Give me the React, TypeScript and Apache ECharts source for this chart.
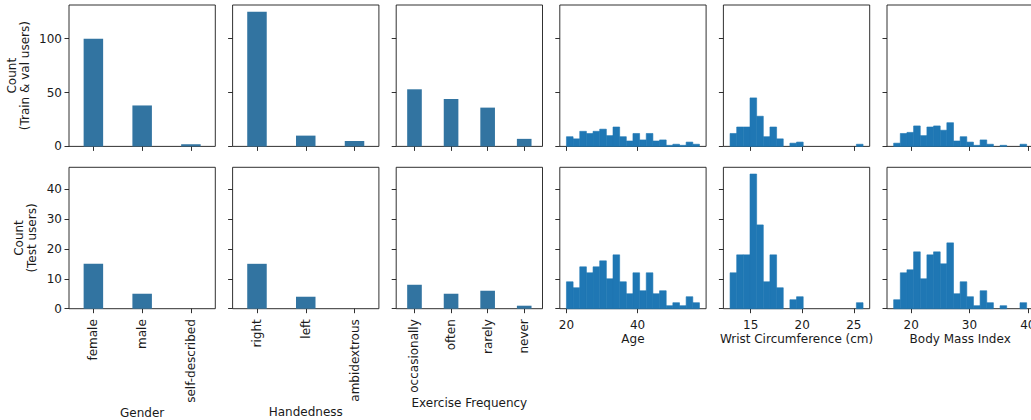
import React, { useEffect, useRef } from "react";
import * as echarts from "echarts";

// ---------- data ----------
const genderCats = ["female", "male", "self-described"];
const genderTrainVal = [100, 38, 2];
const genderTest = [15, 5, 0];

const handCats = ["right", "left", "ambidextrous"];
const handTrainVal = [125, 10, 5];
const handTest = [15, 4, 0];

const exerciseCats = ["occasionally", "often", "rarely", "never"];
const exerciseTrainVal = [53, 44, 36, 7];
const exerciseTest = [8, 5, 6, 1];

// histograms (20 equal bins between min and max)
const ageRange = [20, 57.4];
const ageCounts = [9, 7, 14, 12, 14, 16, 10, 18, 9, 5, 12, 6, 12, 5, 6, 1, 2, 1, 4, 2];
const ageTicks = [20, 40];

const wristRange = [13, 25.9];
const wristCounts = [12, 18, 18, 45, 28, 9, 18, 7, 0, 3, 4, 0, 0, 0, 0, 0, 0, 0, 0, 2];
const wristTicks = [15, 20, 25];

const bmiRange = [17.0, 39.8];
const bmiCounts = [3, 12, 13, 19, 10, 18, 19, 15, 22, 5, 9, 4, 1, 6, 2, 0, 1, 0, 0, 2];
const bmiTicks = [20, 30, 40];

const topYTicks = [0, 50, 100];
const bottomYTicks = [0, 10, 20, 30, 40];
const topYMax = 125 * 1.05;
const bottomYMax = 45 * 1.05;

const rowNames = ["Count\n(Train & val users)", "Count\n(Test users)"];

// ---------- component ----------
type Panel =
  | { kind: "bar"; cats: string[]; rows: number[][]; name: string; gap: number }
  | { kind: "hist"; range: number[]; rows: number[][]; ticks: number[]; name: string; gap: number };

const panels: Panel[] = [
  { kind: "bar", cats: genderCats, rows: [genderTrainVal, genderTest], name: "Gender", gap: 96 },
  { kind: "bar", cats: handCats, rows: [handTrainVal, handTest], name: "Handedness", gap: 96 },
  { kind: "bar", cats: exerciseCats, rows: [exerciseTrainVal, exerciseTest], name: "Exercise Frequency", gap: 87 },
  { kind: "hist", range: ageRange, rows: [ageCounts, ageCounts], ticks: ageTicks, name: "Age", gap: 24.5 },
  { kind: "hist", range: wristRange, rows: [wristCounts, wristCounts], ticks: wristTicks, name: "Wrist Circumference (cm)", gap: 24.5 },
  { kind: "hist", range: bmiRange, rows: [bmiCounts, bmiCounts], ticks: bmiTicks, name: "Body Mass Index", gap: 24.5 },
];

const FONT = "DejaVu Sans";
const TXT = "#1a1a1a";
const FS = 12;
const TICK_LEN = 4.5;
const HIST_COLOR = "#1f77b4";

export default function App() {
  const ref = useRef<HTMLDivElement>(null);
  useEffect(() => {
    if (!ref.current) return;
    const chart = echarts.init(ref.current, null, { renderer: "svg" });
    const grids: any[] = [];
    const xAxes: any[] = [];
    const yAxes: any[] = [];
    const series: any[] = [];
    const colLeft0 = 69;
    const colStep = 163.6;
    const colW = 146.3;
    const rowTops = [5, 167.3];
    const rowH = 141.4;
    const tickStyle = { color: "#1a1a1a", width: 0.9 };

    for (let r = 0; r < 2; r++) {
      for (let c = 0; c < 6; c++) {
        const idx = r * 6 + c;
        const p = panels[c];
        grids.push({
          left: colLeft0 + c * colStep,
          top: rowTops[r],
          width: colW,
          height: rowH,
          show: true,
          borderColor: "#1a1a1a",
          borderWidth: 0.9,
          backgroundColor: "transparent",
          containLabel: false,
        });
        const yTicks = r === 0 ? topYTicks : bottomYTicks;
        yAxes.push({
          type: "value",
          gridIndex: idx,
          min: 0,
          max: r === 0 ? topYMax : bottomYMax,
          splitLine: { show: false },
          axisLine: { show: false },
          axisTick: { show: true, length: TICK_LEN, lineStyle: tickStyle, customValues: yTicks },
          axisLabel: {
            show: c === 0,
            customValues: yTicks,
            margin: 7,
            fontSize: FS,
            fontFamily: FONT,
            color: TXT,
          },
          name: c === 0 ? rowNames[r] : "",
          nameLocation: "middle",
          nameGap: r === 0 ? 37.5 : 30.5,
          nameTextStyle: { fontSize: FS, fontFamily: FONT, color: TXT, lineHeight: 13 },
        });
        if (p.kind === "bar") {
          xAxes.push({
            type: "category",
            gridIndex: idx,
            data: p.cats,
            boundaryGap: true,
            axisLine: { show: false },
            axisTick: { show: true, alignWithLabel: true, length: TICK_LEN, lineStyle: tickStyle },
            axisLabel: {
              show: r === 1,
              rotate: 90,
              margin: 10.5,
              interval: 0,
              fontSize: FS,
              fontFamily: FONT,
              color: TXT,
            },
            splitLine: { show: false },
            name: r === 1 ? p.name : "",
            nameLocation: "middle",
            nameGap: p.gap,
            nameTextStyle: { fontSize: FS, fontFamily: FONT, color: TXT },
          });
          series.push({
            type: "bar",
            xAxisIndex: idx,
            yAxisIndex: idx,
            data: p.rows[r],
            barWidth: "40%",
            itemStyle: { color: "#3274a1" },
            silent: true,
          });
        } else {
          const [lo, hi] = p.range;
          const n = p.rows[r].length;
          const bw = (hi - lo) / n;
          const pad = (hi - lo) * 0.05;
          const data = p.rows[r].map((v, i) => [lo + i * bw, lo + (i + 1) * bw, v]);
          xAxes.push({
            type: "value",
            gridIndex: idx,
            min: lo - pad,
            max: hi + pad,
            splitLine: { show: false },
            axisLine: { show: false },
            axisTick: { show: true, length: TICK_LEN, lineStyle: tickStyle, customValues: p.ticks },
            axisLabel: {
              show: r === 1,
              customValues: p.ticks,
              margin: 10,
              fontSize: FS,
              fontFamily: FONT,
              color: TXT,
            },
            name: r === 1 ? p.name : "",
            nameLocation: "middle",
            nameGap: p.gap,
            nameTextStyle: { fontSize: FS, fontFamily: FONT, color: TXT },
          });
          series.push({
            type: "custom",
            xAxisIndex: idx,
            yAxisIndex: idx,
            data,
            encode: { x: [0, 1], y: 2 },
            silent: true,
            renderItem: (params: any, api: any) => {
              const v = api.value(2);
              if (!v) return null;
              const p0 = api.coord([api.value(0), v]);
              const p1 = api.coord([api.value(1), 0]);
              return {
                type: "rect",
                shape: { x: p0[0], y: p0[1], width: p1[0] - p0[0], height: p1[1] - p0[1] },
                style: { fill: HIST_COLOR, stroke: HIST_COLOR, lineWidth: 0.6 },
              };
            },
          });
        }
      }
    }

    chart.setOption({
      animation: false,
      backgroundColor: "#fff",
      grid: grids,
      xAxis: xAxes,
      yAxis: yAxes,
      series,
    });
    return () => chart.dispose();
  }, []);

  return (
    <div
      ref={ref}
      style={{ position: "fixed", left: 0, top: 0, width: 1040, height: 420 }}
    />
  );
}
